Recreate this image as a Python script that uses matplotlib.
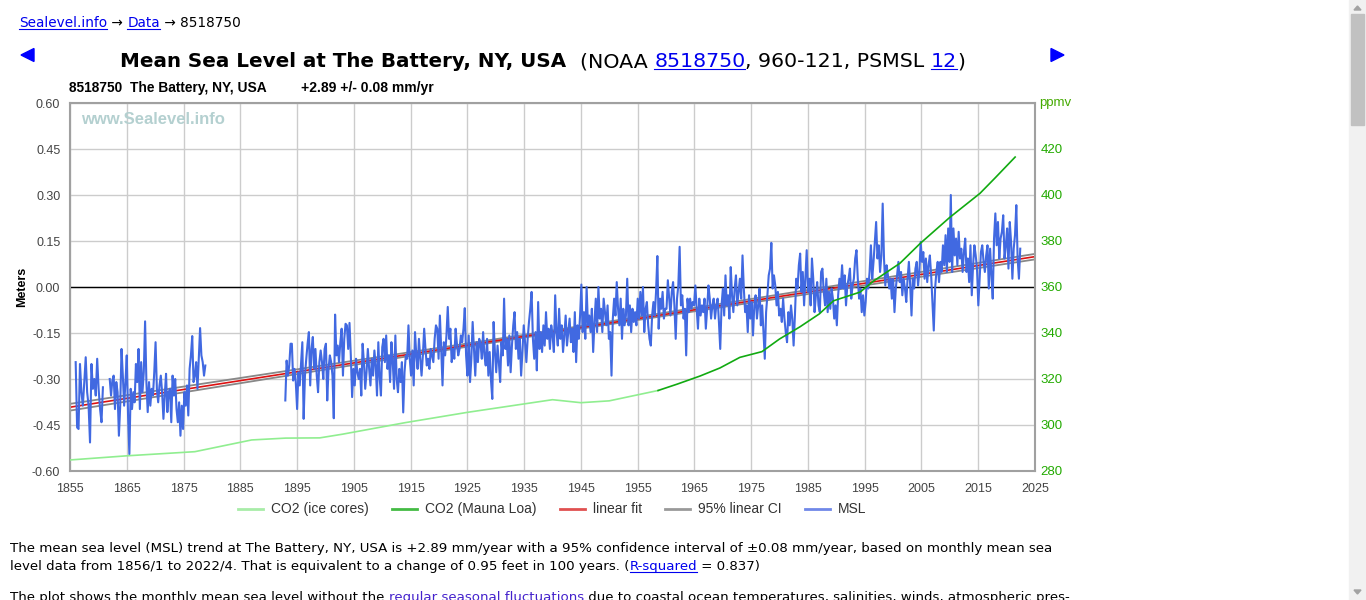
import numpy as np
import matplotlib
matplotlib.use('Agg')
import matplotlib.pyplot as plt
from matplotlib.lines import Line2D
from matplotlib.patches import Rectangle, Polygon

# ---- data ----
# monthly MSL (m), three pieces with gaps between them
msl_a_span = (1856.0, 1860.8)
msl_a = [-0.245, -0.458, -0.463, -0.251, -0.343, -0.387, -0.310, -0.229, -0.343, -0.387,
         -0.507, -0.251, -0.332, -0.300, -0.354, -0.234, -0.332, -0.398, -0.441, -0.327]

msl_b_span = (1862.0, 1878.84)
msl_b = [-0.300, -0.354, -0.305, -0.289, -0.398, -0.310, -0.343, -0.485, -0.387, -0.202,
         -0.289, -0.387, -0.310, -0.223, -0.419, -0.545, -0.332, -0.398, -0.343, -0.376,
         -0.251, -0.310, -0.202, -0.398, -0.245, -0.343, -0.278, -0.112, -0.310, -0.408,
         -0.310, -0.387, -0.332, -0.354, -0.278, -0.180, -0.332, -0.376, -0.321, -0.289,
         -0.343, -0.430, -0.354, -0.283, -0.408, -0.343, -0.332, -0.441, -0.289, -0.354,
         -0.300, -0.398, -0.441, -0.376, -0.485, -0.387, -0.463, -0.343, -0.387, -0.321,
         -0.419, -0.267, -0.223, -0.160, -0.310, -0.289, -0.245, -0.332, -0.234, -0.134,
         -0.223, -0.245, -0.289, -0.256]

msl_c_span = (1892.93, 2022.4)
msl_c = [
    # 1893 - 1926
    -0.370, -0.240, -0.289, -0.256, -0.185, -0.185, -0.305, -0.267, -0.310, -0.398,
    -0.278, -0.321, -0.251, -0.180, -0.430, -0.289, -0.234, -0.185, -0.147, -0.321,
    -0.202, -0.163, -0.267, -0.202, -0.289, -0.343, -0.245, -0.207, -0.245, -0.300,
    -0.202, -0.185, -0.370, -0.267, -0.223, -0.245, -0.289, -0.428, -0.090, -0.223,
    -0.191, -0.245, -0.180, -0.136, -0.289, -0.169, -0.120, -0.125, -0.202, -0.117,
    -0.223, -0.359, -0.267, -0.321, -0.234, -0.278, -0.300, -0.267, -0.354, -0.185,
    -0.245, -0.332, -0.278, -0.202, -0.267, -0.321, -0.234, -0.289, -0.207, -0.256,
    -0.354, -0.180, -0.294, -0.354, -0.196, -0.169, -0.245, -0.158, -0.267, -0.223,
    -0.310, -0.180, -0.245, -0.332, -0.158, -0.300, -0.343, -0.267, -0.310, -0.245,
    -0.409, -0.278, -0.223, -0.234, -0.125, -0.234, -0.289, -0.207, -0.321, -0.147,
    -0.223, -0.267, -0.169, -0.234, -0.289, -0.223, -0.136, -0.202, -0.256, -0.234,
    -0.267, -0.202, -0.223, -0.245, -0.169, -0.125, -0.136, -0.234, -0.093, -0.202,
    -0.321, -0.180, -0.223, -0.158, -0.065, -0.169, -0.136, -0.245, -0.202, -0.234,
    -0.136, -0.185, -0.223, -0.202, -0.158, -0.180, -0.136, -0.069, -0.223, -0.289,
    -0.158, -0.310, -0.234, -0.114, -0.202, -0.289, -0.180, -0.245, -0.169, -0.185,
    # 1927 - 1966
    -0.234, -0.147, -0.223, -0.256, -0.169, -0.289, -0.212, -0.305, -0.365, -0.114,
    -0.212, -0.278, -0.191, -0.245, -0.310, -0.180, -0.223, -0.038, -0.202, -0.169,
    -0.256, -0.158, -0.278, -0.191, -0.125, -0.082, -0.202, -0.147, -0.234, -0.169,
    -0.289, -0.212, -0.125, -0.180, -0.245, -0.169, -0.114, -0.071, -0.016, -0.169,
    -0.234, -0.147, -0.272, -0.049, -0.202, -0.147, -0.212, -0.125, -0.191, -0.082,
    -0.169, -0.136, -0.202, -0.125, -0.158, -0.212, -0.027, -0.147, -0.191, -0.071,
    -0.169, -0.125, -0.212, -0.158, -0.093, -0.191, -0.147, -0.103, -0.180, -0.136,
    -0.212, -0.082, -0.245, -0.125, -0.169, -0.093, 0.008, -0.147, -0.082, -0.169,
    0.000, -0.125, -0.093, -0.147, -0.071, -0.212, -0.114, -0.038, -0.147, 0.000,
    -0.103, -0.071, -0.147, -0.038, -0.082, -0.125, -0.060, -0.169, -0.147, -0.289,
    -0.103, -0.038, -0.093, 0.016, -0.071, -0.125, -0.038, -0.169, -0.071, -0.125,
    -0.093, 0.027, -0.125, -0.060, -0.147, -0.071, -0.114, -0.082, -0.125, -0.038,
    -0.103, -0.016, -0.093, 0.000, -0.147, -0.071, -0.049, -0.125, -0.169, -0.191,
    -0.093, -0.049, -0.093, -0.016, 0.101, -0.136, -0.038, -0.071, -0.016, -0.103,
    -0.071, -0.071, 0.022, -0.038, -0.093, -0.016, 0.016, -0.060, -0.169, -0.038,
    0.005, 0.131, -0.060, -0.027, -0.103, -0.071, -0.223, -0.038, -0.082, -0.038,
    -0.071, -0.049, -0.060, 0.005, -0.071, -0.136, -0.038, -0.093, -0.060, -0.082,
    -0.038, -0.136, -0.071,
    # 1967 - 2022
    0.005, -0.038, -0.103, -0.060, -0.038, -0.103, -0.060, -0.038, -0.114, -0.202,
    -0.060, -0.005, -0.093, 0.038, -0.060, -0.027, -0.103, 0.065, -0.027, -0.082,
    -0.005, 0.038, -0.060, -0.016, 0.027, -0.038, 0.103, -0.005, -0.082, -0.060,
    -0.147, -0.027, -0.103, -0.049, -0.158, -0.060, -0.027, -0.103, -0.060, -0.005,
    -0.125, -0.060, -0.147, -0.234, -0.082, -0.027, 0.038, 0.060, 0.144, -0.005,
    0.038, 0.005, -0.060, -0.016, -0.093, -0.071, -0.114, -0.038, -0.103, -0.147,
    -0.180, -0.082, -0.125, -0.060, -0.103, -0.191, -0.093, 0.027, -0.005, 0.071,
    0.109, -0.016, 0.049, -0.060, 0.027, 0.120, -0.016, 0.027, -0.060, 0.093,
    0.027, -0.082, -0.027, 0.016, -0.060, -0.082, 0.049, 0.060, -0.016, -0.060,
    0.027, -0.082, -0.016, -0.071, -0.005, -0.038, -0.103, -0.060, -0.125, -0.027,
    0.027, -0.005, 0.071, -0.005, 0.038, -0.060, 0.005, 0.027, 0.060, -0.038,
    0.005, 0.027, 0.093, 0.120, 0.027, -0.038, -0.005, -0.082, -0.027, -0.093,
    -0.049, 0.027, -0.005, 0.049, 0.136, 0.027, 0.082, 0.147, 0.212, 0.093,
    0.136, 0.049, 0.103, 0.272, 0.093, 0.005, 0.071, 0.038, -0.005, 0.027,
    -0.038, 0.027, -0.082, -0.005, 0.038, 0.082, 0.016, 0.049, -0.027, 0.027,
    -0.005, -0.049, 0.027, 0.082, 0.005, -0.093, 0.027, -0.005, 0.060, 0.082,
    0.005, 0.049, 0.147, 0.082, 0.114, 0.027, 0.093, 0.016, 0.071, 0.103,
    0.038, -0.049, -0.142, -0.005, 0.049, 0.082, 0.016, 0.082, 0.049, 0.136,
    0.071, 0.169, 0.049, 0.191, 0.082, 0.300, 0.049, 0.191, 0.103, 0.158,
    0.071, 0.180, 0.093, 0.125, 0.049, 0.114, 0.158, 0.049, 0.093, 0.016,
    0.136, -0.027, 0.071, 0.136, 0.103, 0.060, -0.060, 0.027, 0.114, 0.136,
    0.082, 0.049, 0.103, 0.136, -0.005, 0.125, 0.038, -0.038, 0.158, 0.240,
    0.136, 0.212, 0.093, 0.158, 0.180, 0.234, 0.093, 0.136, 0.191, 0.060,
    0.212, 0.147, 0.027, 0.125, 0.169, 0.267, 0.093, 0.027, 0.125,
]

# linear fit and 95% CI (m)
fit_years = [1855, 2025]
fit_vals = [-0.392, 0.099]
ci_years = [1855, 1940, 2025]
ci_upper = [-0.381, -0.142, 0.108]
ci_lower = [-0.403, -0.150, 0.090]

# CO2 (ppmv)
ice_years = [1855, 1865, 1877, 1887, 1893, 1899, 1903, 1914, 1925, 1940, 1945, 1950, 1958.6]
ice_ppm = [284.8, 286.6, 288.4, 293.5, 294.3, 294.4, 296.0, 301.0, 305.5, 311.0, 309.7, 310.5, 315.0]
ml_years = [1958.6, 1962, 1966, 1969.5, 1973, 1976.9, 1980, 1983.6, 1987, 1989.5,
            1994.2, 1996.5, 2001.2, 2004.8, 2010, 2015.3, 2018, 2021.5]
ml_ppm = [315.0, 317.8, 321.3, 324.8, 329.4, 331.9, 337.4, 342.7, 348.3, 354.0,
          357.8, 362.5, 370.3, 379.0, 390.3, 400.7, 407.5, 416.5]

x_ticks = list(range(1855, 2026, 10))
y_ticks = [-0.60, -0.45, -0.30, -0.15, 0.00, 0.15, 0.30, 0.45, 0.60]
ppm_ticks = [280, 300, 320, 340, 360, 380, 400, 420]

legend_items = [('CO2 (ice cores)', '#a8eca8', 238), ('CO2 (Mauna Loa)', '#44bb44', 392),
                ('linear fit', '#e05050', 560), ('95% linear CI', '#999999', 665),
                ('MSL', '#7088e8', 805)]

W, H = 1366, 600
LINK = '#0000ee'
ARIAL = 'Liberation Sans'
VERD = 'DejaVu Sans'

fig = plt.figure(figsize=(W / 100, H / 100), dpi=100)
fig.patch.set_facecolor('white')
renderer = fig.canvas.get_renderer()


def fx(px):
    return px / W


def fy(py):
    return 1 - py / H


def put(x, y, s, **kw):
    t = fig.text(fx(x), fy(y), s, va='baseline', ha='left', **kw)
    return t.get_window_extent(renderer).width


def measure(s, **kw):
    t = fig.text(0.5, 0.5, s, **kw)
    w = t.get_window_extent(renderer).width
    t.remove()
    return w


def text_runs(x, y, parts, **kw):
    for s, color, link in parts:
        w = put(x, y, s, color=color, **kw)
        if link:
            fig.add_artist(Line2D([fx(x), fx(x + w)], [fy(y + 2)] * 2, color=color, lw=0.8))
        x += w
    return x


# ---- chart ----
ax = fig.add_axes([fx(70), fy(471), 965 / W, 368 / H])
ax.set_xlim(1855, 2025)
ax.set_ylim(-0.6, 0.6)
ax.set_xticks(x_ticks)
ax.set_yticks(y_ticks)
ax.set_xticklabels([str(v) for v in x_ticks])
ax.set_yticklabels(['%.2f' % v for v in y_ticks])
ax.grid(True, color='#cccccc', lw=1.0)
ax.set_axisbelow(True)
ax.tick_params(length=0, labelsize=9, labelcolor='#444444', pad=7)
ax.tick_params(axis='x', pad=9)
for lab in ax.get_xticklabels() + ax.get_yticklabels():
    lab.set_family(ARIAL)
for sp in ax.spines.values():
    sp.set_color('#a0a0a0')
    sp.set_linewidth(1.5)

ax.axhline(0, color='black', lw=1.0, zorder=1.5)
ax.plot(ci_years, ci_upper, color='#888888', lw=1.3, zorder=2)
ax.plot(ci_years, ci_lower, color='#888888', lw=1.3, zorder=2)
ax.plot(fit_years, fit_vals, color='#dd1111', lw=1.2, zorder=2.1)
for span, vals in [(msl_a_span, msl_a), (msl_b_span, msl_b), (msl_c_span, msl_c)]:
    xs = np.linspace(span[0], span[1], len(vals))
    ax.plot(xs, vals, color='#4169e1', lw=1.5, zorder=3)

fig.text(fx(22), fy(287), 'Meters', rotation=90, ha='center', va='center',
         fontsize=9, weight='bold', family=ARIAL)

ax2 = ax.twinx()
ax2.set_ylim(280, 440)
ax2.set_yticks(ppm_ticks)
ax2.tick_params(length=0, labelsize=9.5, labelcolor='#22aa00', pad=4)
for lab in ax2.get_yticklabels():
    lab.set_family(ARIAL)
for sp in ax2.spines.values():
    sp.set_visible(False)
ax2.plot(ice_years, ice_ppm, color='#90ee90', lw=1.2)
ax2.plot(ml_years, ml_ppm, color='#11aa11', lw=1.2)
fig.text(fx(1039), fy(103), 'ppmv', ha='left', va='center', fontsize=9.5,
         color='#44aa00', family=ARIAL)

# watermark
fig.text(fx(81), fy(119), 'www.Sealevel.info', ha='left', va='center', fontsize=12,
         weight='bold', color='#b4d0d0', family=ARIAL)

# subtitle inside chart header
put(69, 92, '8518750  The Battery, NY, USA', fontsize=9.9, weight='bold', family=ARIAL, color='black')
put(301, 92, '+2.89 +/- 0.08 mm/yr', fontsize=10, weight='bold', family=ARIAL, color='black')

# legend
for label, col, x0 in legend_items:
    fig.add_artist(Line2D([fx(x0), fx(x0 + 25)], [fy(509)] * 2, color=col, lw=2))
    fig.text(fx(x0 + 33), fy(509), label, ha='left', va='center', fontsize=10,
             color='#333333', family=ARIAL)

# ---- page text ----
text_runs(19, 27, [('Sealevel.info', LINK, True), (' \u2192 ', 'black', False),
                   ('Data', LINK, True), (' \u2192 8518750', 'black', False)],
          fontsize=9.8, family=VERD)

title_a = 'Mean Sea Level at The Battery, NY, USA'
title_b = '(NOAA 8518750, 960-121, PSMSL 12)'
bold_size = 14.0 * 446 / measure(title_a, fontsize=14, weight='bold', family=VERD)
norm_size = 14.0 * 385 / measure(title_b, fontsize=14, family=VERD)
put(120, 67, title_a, fontsize=bold_size, weight='bold', family=VERD, color='black')
text_runs(580, 67, [('(NOAA ', 'black', False), ('8518750', LINK, True),
                    (', 960-121, PSMSL ', 'black', False), ('12', LINK, True),
                    (')', 'black', False)], fontsize=norm_size, family=VERD)

fig.add_artist(Polygon([[fx(21), fy(55)], [fx(34), fy(48.5)], [fx(34), fy(61.5)]],
                       closed=True, color='#0000ff'))
fig.add_artist(Polygon([[fx(1064), fy(55)], [fx(1051), fy(48.5)], [fx(1051), fy(61.5)]],
                       closed=True, color='#0000ff'))

p_size = 9.65
text_runs(10, 552, [('The mean sea level (MSL) trend at The Battery, NY, USA is +2.89 mm/year with a '
                     '95% confidence interval of \u00b10.08 mm/year, based on monthly mean sea',
                     'black', False)], fontsize=p_size, family=VERD)
text_runs(10, 570, [('level data from 1856/1 to 2022/4. That is equivalent to a change of 0.95 feet '
                     'in 100 years. (', 'black', False), ('R-squared', LINK, True),
                    (' = 0.837)', 'black', False)], fontsize=p_size, family=VERD)
text_runs(10, 601, [('The plot shows the monthly mean sea level without the ', 'black', False),
                    ('regular seasonal fluctuations', '#4422cc', False),
                    (' due to coastal ocean temperatures, salinities, winds, atmospheric pres-',
                     'black', False)], fontsize=p_size, family=VERD)

# scrollbar
fig.add_artist(Rectangle((fx(1349), 0), 17 / W, 1, color='#f1f1f1'))
fig.add_artist(Rectangle((fx(1351), fy(125)), 13 / W, 111 / H, color='#c1c1c1'))
fig.add_artist(Polygon([[fx(1354), fy(10)], [fx(1361), fy(10)], [fx(1357.5), fy(6)]],
                       closed=True, color='#a3a3a3'))
fig.add_artist(Polygon([[fx(1354), fy(590)], [fx(1361), fy(590)], [fx(1357.5), fy(594)]],
                       closed=True, color='#a3a3a3'))

fig.savefig('out.png', dpi=100)
